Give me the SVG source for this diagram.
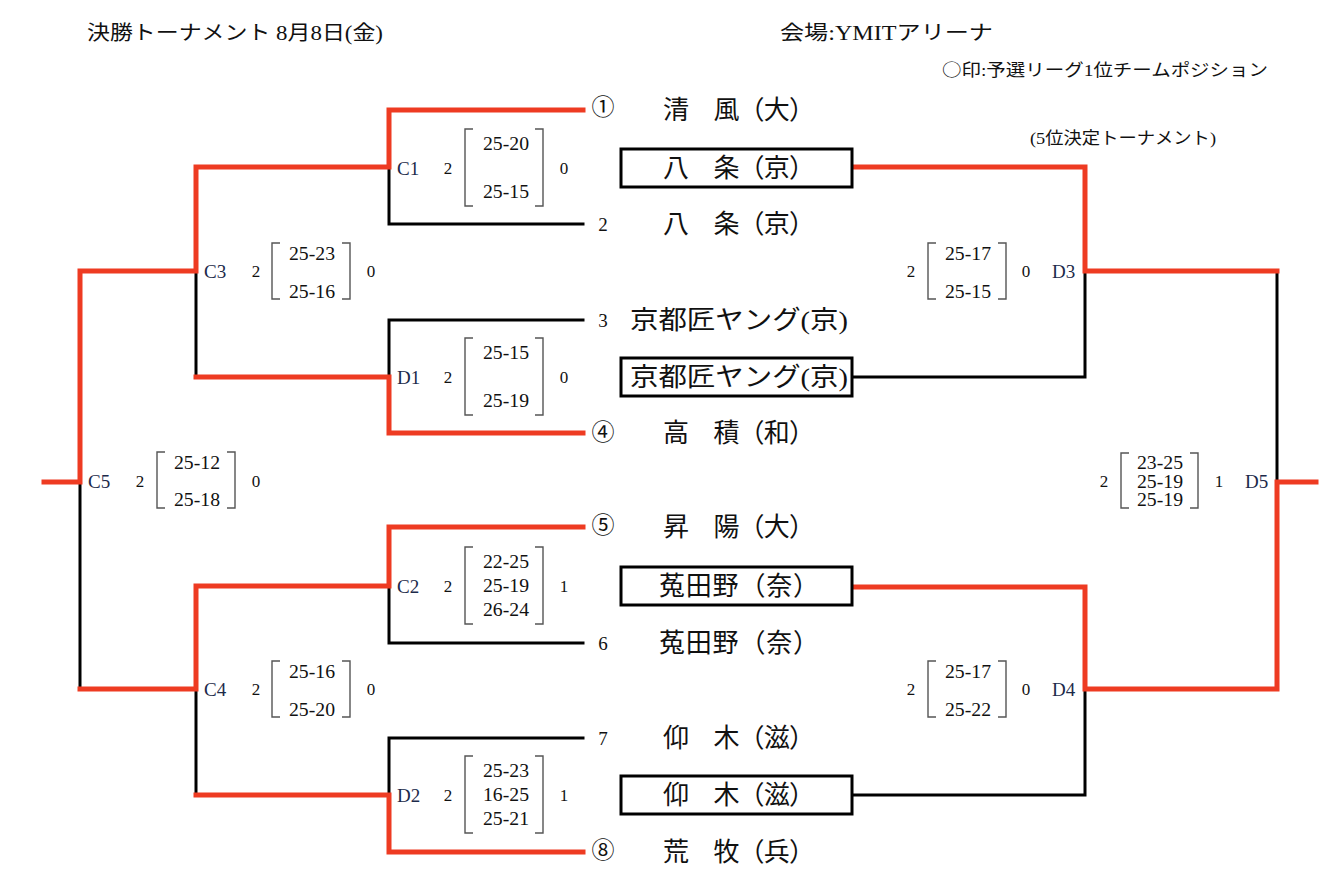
<svg xmlns="http://www.w3.org/2000/svg" width="1343" height="882" viewBox="0 0 1343 882">
<style>
text{font-family:"Liberation Serif","Noto Sans CJK JP",serif;fill:#111}
.hd{font-size:20px}
.nt{font-size:17px}
.cj{font-family:"Noto Sans CJK JP",sans-serif}
.tm{font-size:26px;text-anchor:middle;dominant-baseline:central}
.sd{font-size:19px;text-anchor:middle;dominant-baseline:central}
.ci{font-size:23px;text-anchor:middle;dominant-baseline:central}
.lb{font-size:19px;dominant-baseline:central;fill:#1c2a4a}
.n{font-size:17px;text-anchor:middle;dominant-baseline:central}
.sc{font-size:18px;text-anchor:middle;dominant-baseline:central}
.br{fill:none;stroke:#555;stroke-width:1.4}
.red{fill:none;stroke:#EE3B22;stroke-width:5;stroke-linejoin:miter;stroke-linecap:square}
.blk{fill:none;stroke:#000;stroke-width:3;stroke-linejoin:miter;stroke-linecap:square}
.box{fill:#fff;stroke:#000;stroke-width:3}
</style>

<g id="header">
<text class="hd" x="87" y="40" textLength="296" lengthAdjust="spacingAndGlyphs">決勝トーナメント 8月8日(金)</text>
<text class="hd" x="780" y="40" textLength="213" lengthAdjust="spacingAndGlyphs">会場:YMITアリーナ</text>
<text class="nt" x="942" y="76" textLength="326" lengthAdjust="spacingAndGlyphs"><tspan class="cj">○</tspan>印:予選リーグ1位チームポジション</text>
<text class="nt" x="1030" y="144" textLength="186" lengthAdjust="spacingAndGlyphs">(5位決定トーナメント)</text>
</g>

<g id="connectors">
<path class="blk" d="M583,224 H389 V167"/>
<path class="blk" d="M583,320 H389 V377"/>
<path class="blk" d="M196,271 V377"/>
<path class="blk" d="M583,643 H389 V586"/>
<path class="blk" d="M583,738 H389 V795"/>
<path class="blk" d="M196,689 V795"/>
<path class="blk" d="M80,482 V689"/>
<path class="blk" d="M852,377 H1085 V271"/>
<path class="blk" d="M852,795 H1085 V689"/>
<path class="blk" d="M1277,271 V482"/>
<path class="red" d="M583,110 H389 V167 H196 V271 H80 V482 H44"/>
<path class="red" d="M583,433 H389 V377 H196"/>
<path class="red" d="M583,527 H389 V586 H196 V689 H80"/>
<path class="red" d="M583,852 H389 V795 H196"/>
<path class="red" d="M852,167 H1085 V271 H1277"/>
<path class="red" d="M852,587 H1085 V689 H1277 V482 H1316"/>
</g>

<g id="teams">
<text class="ci" x="603" y="107">①</text>
<text class="tm" x="739" y="110" textLength="152">清　風（大）</text>
<text class="sd" x="603" y="224">2</text>
<text class="tm" x="739" y="224" textLength="152">八　条（京）</text>
<text class="sd" x="603" y="320">3</text>
<text class="tm" x="739" y="320" textLength="218" lengthAdjust="spacingAndGlyphs">京都匠ヤング(京)</text>
<text class="ci" x="603" y="432">④</text>
<text class="tm" x="739" y="433" textLength="152">高　積（和）</text>
<text class="ci" x="603" y="525">⑤</text>
<text class="tm" x="739" y="527" textLength="152">昇　陽（大）</text>
<text class="sd" x="603" y="643">6</text>
<text class="tm" x="739" y="643" textLength="160">菟田野（奈）</text>
<text class="sd" x="603" y="738">7</text>
<text class="tm" x="739" y="738" textLength="152">仰　木（滋）</text>
<text class="ci" x="603" y="850">⑧</text>
<text class="tm" x="739" y="852" textLength="152">荒　牧（兵）</text>
</g>

<g id="box1"><rect class="box" x="621" y="149" width="231" height="38"/><text class="tm" x="739" y="168" textLength="152">八　条（京）</text></g>
<g id="box2"><rect class="box" x="621" y="358" width="231" height="38"/><text class="tm" x="739" y="377" textLength="218" lengthAdjust="spacingAndGlyphs">京都匠ヤング(京)</text></g>
<g id="box3"><rect class="box" x="621" y="567" width="231" height="38"/><text class="tm" x="739" y="586" textLength="160">菟田野（奈）</text></g>
<g id="box4"><rect class="box" x="621" y="776" width="231" height="38"/><text class="tm" x="739" y="795" textLength="152">仰　木（滋）</text></g>

<g id="C1">
<text class="lb" x="397" y="168">C1</text><text class="n" x="448" y="168">2</text>
<path class="br" d="M473,129 H465 V206 H473"/><path class="br" d="M535,129 H543 V206 H535"/>
<text class="sc" x="506" y="144" textLength="46" lengthAdjust="spacingAndGlyphs">25-20</text><text class="sc" x="506" y="192" textLength="46" lengthAdjust="spacingAndGlyphs">25-15</text>
<text class="n" x="564" y="168">0</text>
</g>
<g id="D1">
<text class="lb" x="397" y="377">D1</text><text class="n" x="448" y="377">2</text>
<path class="br" d="M473,338 H465 V415 H473"/><path class="br" d="M535,338 H543 V415 H535"/>
<text class="sc" x="506" y="353" textLength="46" lengthAdjust="spacingAndGlyphs">25-15</text><text class="sc" x="506" y="401" textLength="46" lengthAdjust="spacingAndGlyphs">25-19</text>
<text class="n" x="564" y="377">0</text>
</g>
<g id="C2">
<text class="lb" x="397" y="586">C2</text><text class="n" x="448" y="586">2</text>
<path class="br" d="M473,547 H465 V624 H473"/><path class="br" d="M535,547 H543 V624 H535"/>
<text class="sc" x="506" y="562" textLength="46" lengthAdjust="spacingAndGlyphs">22-25</text><text class="sc" x="506" y="586" textLength="46" lengthAdjust="spacingAndGlyphs">25-19</text><text class="sc" x="506" y="610" textLength="46" lengthAdjust="spacingAndGlyphs">26-24</text>
<text class="n" x="564" y="586">1</text>
</g>
<g id="D2">
<text class="lb" x="397" y="795">D2</text><text class="n" x="448" y="795">2</text>
<path class="br" d="M473,756 H465 V833 H473"/><path class="br" d="M535,756 H543 V833 H535"/>
<text class="sc" x="506" y="771" textLength="46" lengthAdjust="spacingAndGlyphs">25-23</text><text class="sc" x="506" y="795" textLength="46" lengthAdjust="spacingAndGlyphs">16-25</text><text class="sc" x="506" y="819" textLength="46" lengthAdjust="spacingAndGlyphs">25-21</text>
<text class="n" x="564" y="795">1</text>
</g>
<g id="C3">
<text class="lb" x="204" y="271">C3</text><text class="n" x="256" y="271">2</text>
<path class="br" d="M280,243 H272 V299 H280"/><path class="br" d="M342,243 H350 V299 H342"/>
<text class="sc" x="312" y="254" textLength="46" lengthAdjust="spacingAndGlyphs">25-23</text><text class="sc" x="312" y="292" textLength="46" lengthAdjust="spacingAndGlyphs">25-16</text>
<text class="n" x="371" y="271">0</text>
</g>
<g id="C4">
<text class="lb" x="204" y="689">C4</text><text class="n" x="256" y="689">2</text>
<path class="br" d="M280,661 H272 V717 H280"/><path class="br" d="M342,661 H350 V717 H342"/>
<text class="sc" x="312" y="672" textLength="46" lengthAdjust="spacingAndGlyphs">25-16</text><text class="sc" x="312" y="710" textLength="46" lengthAdjust="spacingAndGlyphs">25-20</text>
<text class="n" x="371" y="689">0</text>
</g>
<g id="C5">
<text class="lb" x="88" y="481">C5</text><text class="n" x="140" y="481">2</text>
<path class="br" d="M165,452 H157 V508 H165"/><path class="br" d="M227,452 H235 V508 H227"/>
<text class="sc" x="197" y="463" textLength="46" lengthAdjust="spacingAndGlyphs">25-12</text><text class="sc" x="197" y="500" textLength="46" lengthAdjust="spacingAndGlyphs">25-18</text>
<text class="n" x="256" y="481">0</text>
</g>
<g id="D3">
<text class="n" x="911" y="271">2</text>
<path class="br" d="M936,243 H928 V299 H936"/><path class="br" d="M998,243 H1006 V299 H998"/>
<text class="sc" x="968" y="254" textLength="46" lengthAdjust="spacingAndGlyphs">25-17</text><text class="sc" x="968" y="292" textLength="46" lengthAdjust="spacingAndGlyphs">25-15</text>
<text class="n" x="1026" y="271">0</text>
<text class="lb" x="1052" y="271">D3</text>
</g>
<g id="D4">
<text class="n" x="911" y="689">2</text>
<path class="br" d="M936,661 H928 V717 H936"/><path class="br" d="M998,661 H1006 V717 H998"/>
<text class="sc" x="968" y="672" textLength="46" lengthAdjust="spacingAndGlyphs">25-17</text><text class="sc" x="968" y="710" textLength="46" lengthAdjust="spacingAndGlyphs">25-22</text>
<text class="n" x="1026" y="689">0</text>
<text class="lb" x="1052" y="689">D4</text>
</g>
<g id="D5">
<text class="n" x="1104" y="481">2</text>
<path class="br" d="M1129,453 H1121 V508 H1129"/><path class="br" d="M1190,453 H1198 V508 H1190"/>
<text class="sc" x="1160" y="463" textLength="46" lengthAdjust="spacingAndGlyphs">23-25</text><text class="sc" x="1160" y="482" textLength="46" lengthAdjust="spacingAndGlyphs">25-19</text><text class="sc" x="1160" y="500" textLength="46" lengthAdjust="spacingAndGlyphs">25-19</text>
<text class="n" x="1219" y="481">1</text>
<text class="lb" x="1245" y="481">D5</text>
</g>
</svg>
